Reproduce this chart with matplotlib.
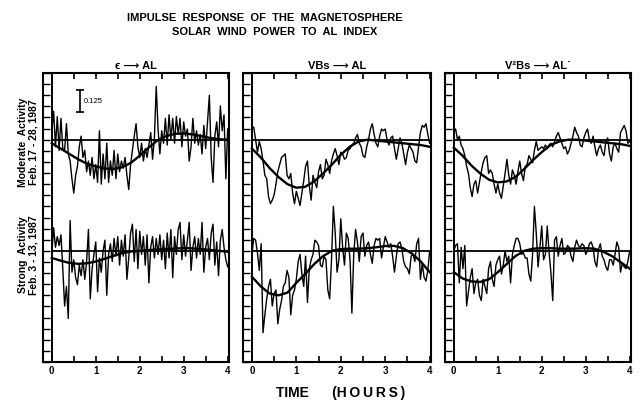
import numpy as np
import matplotlib
matplotlib.use("Agg")
import matplotlib.pyplot as plt

plt.rcParams['font.family'] = ['Liberation Sans', 'DejaVu Sans']

# time in hours, 2.5 minute samples
hours = np.arange(97) * 2.5 / 60
fit_hours = np.arange(21) * 0.2

panel_titles = ["ϵ ⟶ AL", "VBs ⟶ AL", "V²Bs ⟶ AL˙"]
row_labels = [("Moderate  Activity", "Feb. 17 - 28, 1987"),
              ("Strong  Activity", "Feb. 3 - 13, 1987")]
scale_bar = 0.125

# epsilon -> AL, moderate activity
eps_mod = [0.05, 0.16, -0.04, 0.13, -0.06, 0.12, -0.05, -0.06, 0.09, -0.08,
           -0.12, -0.22, -0.30, -0.20, -0.15, -0.04, 0.02, -0.10, -0.06, -0.18,
           -0.12, -0.20, -0.10, -0.22, -0.14, -0.24, 0.05, -0.25, -0.08, -0.22,
           -0.02, -0.24, -0.12, -0.20, -0.06, -0.22, -0.08, -0.18, -0.12, -0.16,
           -0.10, -0.20, -0.28, -0.14, -0.06, 0.02, 0.09, -0.04, -0.10, -0.02,
           -0.12, -0.05, -0.10, -0.03, 0.04, -0.11, 0.01, 0.30, 0.06, -0.08,
           0.05, -0.02, 0.12, -0.03, 0.14, 0.00, 0.12, -0.02, 0.13, 0.03,
           0.12, -0.04, 0.10, 0.02, 0.06, -0.12, -0.04, 0.12, -0.02, 0.05,
           -0.03, 0.03, -0.08, 0.08, -0.05, 0.10, 0.25, -0.10, -0.24, 0.02,
           0.10, -0.04, 0.19, 0.05, 0.14, -0.22, 0.06]
# epsilon -> AL, strong activity
eps_str = [-0.02, 0.13, 0.02, 0.08, 0.03, 0.09, -0.10, -0.31, -0.20, -0.38,
           0.17, -0.12, -0.05, -0.15, -0.19, -0.08, -0.14, -0.05, -0.16, -0.06,
           0.12, -0.27, -0.10, -0.02, 0.05, -0.23, -0.04, -0.12, 0.00, 0.06,
           -0.25, -0.02, 0.04, -0.06, 0.07, -0.03, 0.08, -0.08, 0.06, -0.03,
           0.09, -0.16, -0.04, 0.10, 0.15, -0.06, 0.12, -0.10, 0.11, -0.02,
           0.08, -0.08, 0.09, -0.18, 0.02, 0.08, -0.04, 0.07, -0.02, 0.09,
           -0.05, 0.06, -0.10, 0.10, -0.04, 0.12, -0.15, 0.08, -0.02, 0.12,
           0.16, -0.05, 0.09, -0.03, 0.06, 0.16, -0.11, 0.02, 0.08, -0.04,
           0.07, -0.02, 0.16, -0.12, 0.02, 0.07, -0.05, 0.10, 0.15, -0.08,
           0.05, -0.14, 0.06, 0.12, 0.02, -0.05, -0.09]
# VBs -> AL, moderate activity
vbs_mod = [0.07, 0.07, 0.00, -0.07, -0.01, -0.05, -0.12, -0.20, -0.22, -0.32,
           -0.36, -0.34, -0.31, -0.25, -0.18, -0.14, -0.10, -0.09, -0.08, -0.20,
           -0.22, -0.19, -0.30, -0.36, -0.29, -0.33, -0.37, -0.30, -0.23, -0.15,
           -0.12, -0.26, -0.34, -0.20, -0.24, -0.27, -0.18, -0.14, -0.22, -0.20,
           -0.11, -0.14, -0.19, -0.12, -0.08, -0.05, -0.09, -0.14, -0.07, -0.08,
           -0.11, -0.10, -0.06, -0.05, -0.03, -0.02, 0.01, 0.03, -0.02, -0.04,
           -0.09, -0.10, -0.04, 0.00, 0.06, 0.09, 0.03, -0.02, -0.04, 0.02,
           0.06, 0.05, 0.06, 0.00, -0.03, 0.01, 0.02, -0.05, -0.11, -0.05,
           0.01, -0.02, -0.08, -0.14, -0.07, -0.03, -0.05, -0.07, -0.12, -0.13,
           -0.04, 0.04, 0.08, 0.07, 0.09, 0.03, -0.02]
# VBs -> AL, strong activity
vbs_str = [-0.02, 0.07, 0.06, -0.01, -0.11, 0.04, -0.46, -0.36, -0.27, -0.20,
           -0.16, -0.31, -0.24, -0.22, -0.41, -0.33, -0.28, -0.20, -0.18, -0.11,
           -0.15, -0.36, -0.25, -0.22, -0.16, -0.06, -0.02, -0.13, -0.20, -0.03,
           -0.29, -0.10, -0.05, -0.02, 0.06, 0.05, 0.03, -0.08, -0.09, -0.03,
           -0.05, -0.22, -0.27, -0.05, 0.25, 0.10, -0.12, -0.05, 0.18, 0.02,
           -0.08, 0.10, 0.07, -0.05, -0.35, -0.02, 0.12, 0.05, -0.06, 0.08,
           0.10, -0.03, 0.03, 0.05, -0.02, -0.07, 0.03, 0.07, 0.06, 0.07,
           -0.04, 0.02, 0.08, 0.05, 0.02, 0.04, -0.03, -0.12, -0.03, 0.04,
           0.05, 0.01, -0.06, -0.09, -0.10, -0.13, -0.03, -0.02, -0.06, 0.04,
           0.07, -0.16, -0.07, -0.15, -0.17, -0.11, 0.00]
# V2Bs -> AL, moderate activity
v2b_mod = [0.04, 0.06, 0.00, 0.02, -0.03, -0.05, -0.09, -0.15, -0.19, -0.27,
           -0.32, -0.25, -0.23, -0.30, -0.24, -0.18, -0.13, -0.10, -0.09, -0.19,
           -0.17, -0.19, -0.25, -0.30, -0.25, -0.30, -0.33, -0.26, -0.19, -0.11,
           -0.20, -0.25, -0.17, -0.20, -0.25, -0.18, -0.12, -0.19, -0.23, -0.15,
           -0.14, -0.09, -0.11, -0.13, -0.06, -0.01, -0.06, -0.05, -0.04, -0.05,
           -0.03, -0.05, -0.03, -0.02, -0.04, -0.01, 0.02, 0.04, 0.01, -0.02,
           -0.05, -0.04, -0.08, -0.06, -0.02, 0.02, 0.07, 0.04, 0.02, -0.03,
           -0.04, 0.01, 0.04, 0.06, 0.00, -0.02, 0.02, -0.04, -0.09, -0.05,
           -0.03, -0.07, -0.09, -0.01, 0.01, -0.08, -0.12, -0.04, -0.02, -0.05,
           -0.07, 0.04, 0.06, 0.08, 0.05, -0.02, -0.01]
# V2Bs -> AL, strong activity
v2b_str = [0.00, 0.03, 0.04, -0.18, 0.02, -0.10, 0.03, -0.31, -0.23, -0.15,
           -0.10, -0.24, -0.18, -0.16, -0.25, -0.28, -0.16, -0.20, -0.24, -0.10,
           -0.06, -0.16, -0.20, -0.08, -0.05, -0.03, -0.13, -0.08, 0.00, -0.06,
           -0.03, -0.18, -0.02, 0.03, 0.07, 0.07, 0.04, -0.02, -0.01, -0.04,
           -0.04, -0.13, -0.17, -0.02, 0.25, 0.10, -0.09, 0.02, 0.14, -0.05,
           -0.02, 0.14, -0.01, -0.12, -0.28, 0.06, 0.08, -0.03, 0.03, 0.07,
           -0.02, -0.01, 0.03, 0.02, -0.03, -0.06, 0.02, 0.06, 0.03, 0.02,
           0.04, 0.03, -0.02, 0.00, 0.04, 0.05, 0.02, -0.06, -0.09, 0.01,
           0.04, -0.03, -0.05, -0.09, -0.11, -0.05, -0.05, -0.08, -0.02, 0.05,
           0.02, -0.12, -0.07, -0.09, -0.10, -0.06, 0.00]

# fitted impulse responses (every 0.2 h)
eps_mod_fit = [-0.02, -0.05, -0.08, -0.11, -0.135, -0.15, -0.162, -0.165, -0.155, -0.13,
               -0.09, -0.045, -0.005, 0.02, 0.033, 0.035, 0.03, 0.02, 0.01, 0.003, 0.0]
eps_str_fit = [-0.04, -0.055, -0.068, -0.073, -0.07, -0.06, -0.045, -0.028, -0.013, -0.004,
               0.0, 0.004, 0.008, 0.011, 0.013, 0.015, 0.014, 0.01, 0.005, 0.0, -0.005]
vbs_mod_fit = [-0.05, -0.10, -0.16, -0.21, -0.25, -0.27, -0.265, -0.235, -0.19, -0.14,
               -0.085, -0.04, -0.01, 0.0, -0.005, -0.01, -0.015, -0.02, -0.025, -0.03, -0.04]
vbs_str_fit = [-0.145, -0.20, -0.24, -0.25, -0.235, -0.18, -0.13, -0.075, -0.03, 0.0,
               0.01, 0.012, 0.012, 0.015, 0.02, 0.027, 0.028, 0.015, -0.015, -0.06, -0.12]
v2b_mod_fit = [-0.045, -0.09, -0.145, -0.19, -0.225, -0.24, -0.235, -0.21, -0.165, -0.115,
               -0.07, -0.03, -0.01, 0.0, 0.0, -0.005, -0.01, -0.015, -0.02, -0.025, -0.035]
v2b_str_fit = [-0.12, -0.155, -0.172, -0.175, -0.16, -0.12, -0.075, -0.03, 0.0, 0.012,
               0.015, 0.015, 0.012, 0.012, 0.013, 0.015, 0.012, -0.005, -0.03, -0.065, -0.10]

moderate = [eps_mod, vbs_mod, v2b_mod]
strong = [eps_str, vbs_str, v2b_str]
moderate_fit = [eps_mod_fit, vbs_mod_fit, v2b_mod_fit]
strong_fit = [eps_str_fit, vbs_str_fit, v2b_str_fit]

offset = 0.625   # upper trace baseline
W, H = 644, 404

fig = plt.figure(figsize=(W / 100, H / 100), dpi=100)

fig.text(265 / W, 1 - 18 / H, "IMPULSE  RESPONSE  OF  THE  MAGNETOSPHERE",
         ha='center', va='center', fontsize=8, fontweight='bold')
fig.text(275 / W, 1 - 32 / H, "SOLAR  WIND  POWER  TO  AL  INDEX",
         ha='center', va='center', fontsize=8, fontweight='bold')

lefts = [43, 243, 445]
widths = [186, 188, 186]
for k in range(3):
    ax = fig.add_axes([lefts[k] / W, 42 / H, widths[k] / W, 289 / H])
    ax.set_xlim(-0.2, 4.03)
    ax.set_ylim(-0.625, 1.0)

    ax.axvline(0, color='k', lw=1.4)
    ax.hlines([0, offset], 0, 4.03, color='k', lw=1.3)

    ax.plot(hours, strong[k], color='k', lw=1.0)
    ax.plot(hours, np.array(moderate[k]) + offset, color='k', lw=1.0)
    ax.plot(fit_hours, strong_fit[k], color='k', lw=1.7)
    ax.plot(fit_hours, np.array(moderate_fit[k]) + offset, color='k', lw=1.7)

    for s in ax.spines.values():
        s.set_linewidth(1.5)

    ax.set_xticks([0, 1, 2, 3, 4])
    ax.set_xticklabels(['0', '1', '2', '3', '4'], fontsize=7, fontweight='bold')
    ax.set_xticks(np.arange(0.5, 4, 1.0), minor=True)
    ax.tick_params(axis='x', which='both', direction='in', top=True,
                   length=4, width=1.2, pad=3)
    ax.set_yticks(np.arange(-0.625, 1.0001, 0.0625))
    ax.set_yticklabels([])
    ax.tick_params(axis='y', direction='in', length=5, width=1.0)

    ax.set_title(panel_titles[k], fontsize=8, fontweight='bold', pad=3)

    if k == 0:
        ax.plot([0.65, 0.65], [0.78, 0.78 + scale_bar], color='k', lw=1.2,
                marker='_', markersize=6, mew=1.2)
        ax.text(0.72, 0.78 + scale_bar / 2, "0.125", fontsize=5.5, va='center')

for (l1, l2), yc in zip(row_labels, [142, 255]):
    fig.text(23 / W, 1 - yc / H, l1, rotation=90, ha='center', va='center',
             fontsize=7.5, fontweight='bold')
    fig.text(34 / W, 1 - yc / H, l2, rotation=90, ha='center', va='center',
             fontsize=7.5, fontweight='bold')

fig.text(341 / W, 1 - 393 / H, "TIME      (H\u2009O\u2009U\u2009R\u2009S\u2009)",
         ha='center', va='center', fontsize=10, fontweight='bold')

fig.savefig("out.png", dpi=100)
